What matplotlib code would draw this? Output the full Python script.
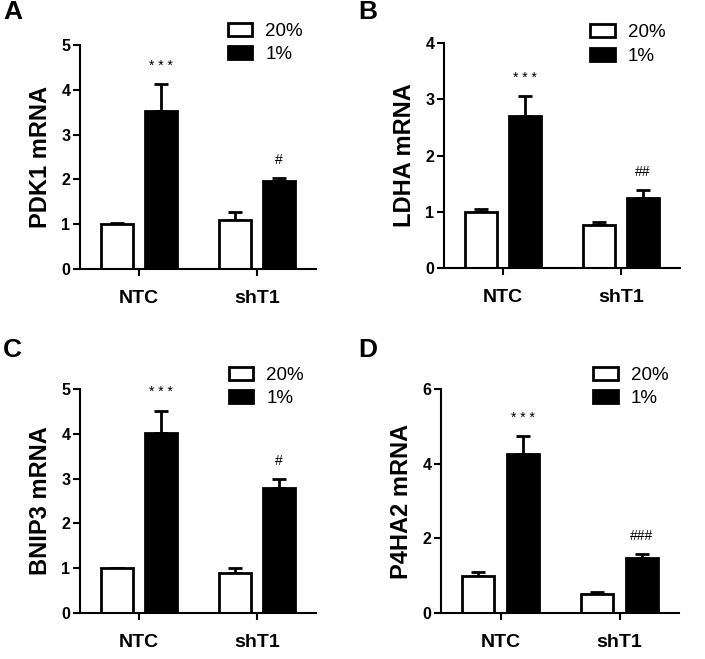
import matplotlib
matplotlib.use("Agg")
import matplotlib.pyplot as plt
from matplotlib.patches import Patch
import numpy as np

plt.rcParams['font.family'] = ['Liberation Sans', 'DejaVu Sans']

groups = ["NTC", "shT1"]
conditions = ["20%", "1%"]

pdk1_20 = [1.00, 1.10]
pdk1_20_err = [0.03, 0.18]
pdk1_1 = [3.52, 1.97]
pdk1_1_err = [0.60, 0.06]
pdk1_sig = ["* * *", "#"]

ldha_20 = [1.00, 0.76]
ldha_20_err = [0.05, 0.06]
ldha_1 = [2.70, 1.24]
ldha_1_err = [0.35, 0.15]
ldha_sig = ["* * *", "##"]

bnip3_20 = [1.00, 0.90]
bnip3_20_err = [0.01, 0.10]
bnip3_1 = [4.02, 2.80]
bnip3_1_err = [0.50, 0.18]
bnip3_sig = ["* * *", "#"]

p4ha2_20 = [1.00, 0.50]
p4ha2_20_err = [0.10, 0.05]
p4ha2_1 = [4.25, 1.48]
p4ha2_1_err = [0.50, 0.10]
p4ha2_sig = ["* * *", "###"]

panels = [
    dict(letter="A", ylabel="PDK1 mRNA", v20=pdk1_20, e20=pdk1_20_err, v1=pdk1_1, e1=pdk1_1_err,
         sig=pdk1_sig, ymax=5, yticks=[0, 1, 2, 3, 4, 5],
         rect=[80/705, 1-269/659, 236/705, 224/659], leg=(0.627, 1.10), lettxy=(3/705, 1-0/659)),
    dict(letter="B", ylabel="LDHA mRNA", v20=ldha_20, e20=ldha_20_err, v1=ldha_1, e1=ldha_1_err,
         sig=ldha_sig, ymax=4, yticks=[0, 1, 2, 3, 4],
         rect=[444/705, 1-268/659, 236/705, 225/659], leg=(0.62, 1.085), lettxy=(358/705, 1-0/659)),
    dict(letter="C", ylabel="BNIP3 mRNA", v20=bnip3_20, e20=bnip3_20_err, v1=bnip3_1, e1=bnip3_1_err,
         sig=bnip3_sig, ymax=5, yticks=[0, 1, 2, 3, 4, 5],
         rect=[80/705, 1-613/659, 236/705, 224/659], leg=(0.63, 1.10), lettxy=(3/705, 1-338/659)),
    dict(letter="D", ylabel="P4HA2 mRNA", v20=p4ha2_20, e20=p4ha2_20_err, v1=p4ha2_1, e1=p4ha2_1_err,
         sig=p4ha2_sig, ymax=6, yticks=[0, 2, 4, 6],
         rect=[441/705, 1-613/659, 238/705, 224/659], leg=(0.64, 1.10), lettxy=(358/705, 1-338/659)),
]

fig = plt.figure(figsize=(7.05, 6.59), dpi=100)
x = np.arange(len(groups))
w = 0.265
off = 0.187

for p in panels:
    ax = fig.add_axes(p["rect"])
    ax.bar(x - off, p["v20"], w, color="white", edgecolor="black", linewidth=2, zorder=2)
    ax.bar(x + off, p["v1"], w, color="black", edgecolor="black", linewidth=2, zorder=2)
    ax.errorbar(x - off, p["v20"], yerr=[np.zeros(2), p["e20"]], fmt="none", ecolor="black",
                elinewidth=2, capsize=5, capthick=2, zorder=1)
    ax.errorbar(x + off, p["v1"], yerr=[np.zeros(2), p["e1"]], fmt="none", ecolor="black",
                elinewidth=2, capsize=5, capthick=2, zorder=1)
    for i in range(len(groups)):
        top = p["v1"][i] + p["e1"][i]
        ax.annotate(p["sig"][i], (x[i] + off, top), xytext=(0, 8), textcoords="offset points",
                    ha="center", va="bottom", fontsize=10)
    ax.set_xlim(-0.5, 1.5)
    ax.set_ylim(0, p["ymax"])
    ax.set_yticks(p["yticks"])
    ax.set_yticklabels([str(t) for t in p["yticks"]], fontsize=11.5, fontweight="bold")
    ax.set_xticks(x)
    ax.set_xticklabels(groups, fontsize=14, fontweight="bold")
    ax.tick_params(axis="x", length=5, width=1.5, pad=10)
    ax.tick_params(axis="y", length=5, width=1.5, pad=2)
    for s in ["top", "right"]:
        ax.spines[s].set_visible(False)
    for s in ["left", "bottom"]:
        ax.spines[s].set_linewidth(1.5)
    ax.spines["left"].set_bounds(0, p["ymax"])
    ax.set_ylabel(p["ylabel"], fontsize=17, fontweight="bold", labelpad=7)
    handles = [Patch(facecolor="white", edgecolor="black", linewidth=2, label=conditions[0]),
               Patch(facecolor="black", edgecolor="black", linewidth=2, label=conditions[1])]
    ax.legend(handles=handles, loc="upper left", bbox_to_anchor=p["leg"], frameon=False,
              fontsize=13.5, handlelength=1.3, handleheight=0.7, labelspacing=0.35,
              handletextpad=0.7, borderpad=0, borderaxespad=0)
    fig.text(p["lettxy"][0], p["lettxy"][1], p["letter"], fontsize=19, fontweight="bold",
             ha="left", va="top")

fig.savefig("out.png", dpi=100, facecolor="white")
